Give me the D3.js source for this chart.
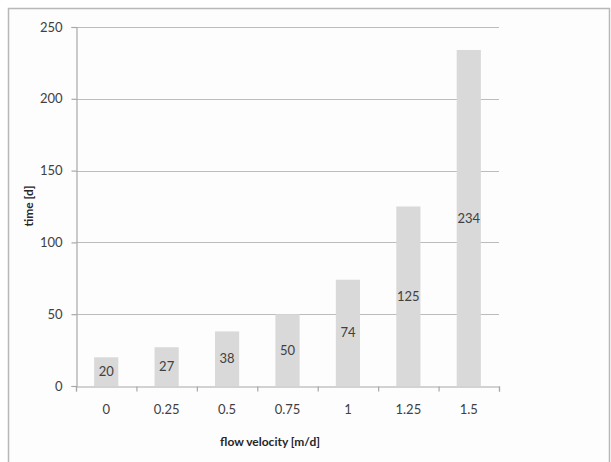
<!DOCTYPE html>
<html>
    <head>
        <meta charset="utf-8">
        <script src="https://cdn.jsdelivr.net/npm/d3@7"></script>
    </head>
    <style>
        body { margin: 0; background: #fff; }
        text { font-family: Lato, "Open Sans", sans-serif; }
    </style>
    <body>
        <div id="canvas"></div>
        <script>
            // data
            var categories = ['0', '0.25', '0.5', '0.75', '1', '1.25', '1.5'];
            var times = [20, 27, 38, 50, 74, 125, 234];
            var yTicks = [0, 50, 100, 150, 200, 250];

            const w = 611;
            const h = 462;
            const plotLeft = 76, plotRight = 499, plotTop = 27, plotBottom = 386;

            const svg = d3.select('#canvas')
                .append('svg')
                .attr('width', w)
                .attr('height', h);

            // outer frame of the chart area
            svg.append('path')
                .attr('d', `M8.5,${h} V8.5 H609.5 V${h}`)
                .attr('fill', '#fdfdfd')
                .attr('stroke', '#b8b8b8')
                .attr('stroke-width', 1.5);

            var x = d3.scaleBand()
                .domain(categories)
                .range([plotLeft, plotRight])
                .paddingInner(0.6)
                .paddingOuter(0.3);

            var y = d3.scaleLinear()
                .domain([0, 250])
                .range([plotBottom, plotTop]);

            // gridlines
            svg.append('g')
                .selectAll('line')
                .data(yTicks.filter(d => d > 0))
                .enter()
                .append('line')
                .attr('x1', plotLeft)
                .attr('x2', plotRight)
                .attr('y1', d => Math.round(y(d)) + 0.5)
                .attr('y2', d => Math.round(y(d)) + 0.5)
                .attr('stroke', '#bcbcbc')
                .attr('stroke-width', 1.2);

            // bars
            svg.append('g')
                .selectAll('rect')
                .data(times)
                .enter()
                .append('rect')
                .attr('x', (d, i) => x(categories[i]))
                .attr('y', d => y(d))
                .attr('width', x.bandwidth())
                .attr('height', d => plotBottom - y(d))
                .attr('fill', '#d9d9d9');

            // value labels, centred in the bars
            svg.append('g')
                .selectAll('text')
                .data(times)
                .enter()
                .append('text')
                .text(d => d)
                .attr('x', (d, i) => x(categories[i]) + x.bandwidth() / 2)
                .attr('y', d => (y(d) + plotBottom) / 2)
                .attr('dy', '0.35em')
                .attr('text-anchor', 'middle')
                .attr('font-size', '13px')
                .attr('fill', '#404040');

            // y axis
            var yAxis = svg.append('g')
                .attr('transform', `translate(${plotLeft + 0.5},0)`)
                .call(d3.axisLeft(y).tickValues(yTicks).tickSize(5).tickPadding(9));

            // x axis, ticks between categories
            var xBounds = d3.scaleLinear()
                .domain([0, categories.length])
                .range([plotLeft, plotRight]);
            var xAxis = svg.append('g')
                .attr('transform', `translate(0,${plotBottom + 0.5})`)
                .call(d3.axisBottom(xBounds).ticks(categories.length).tickSize(5).tickFormat(''));
            svg.append('g')
                .selectAll('text')
                .data(categories)
                .enter()
                .append('text')
                .text(d => d)
                .attr('x', d => x(d) + x.bandwidth() / 2)
                .attr('y', 409)
                .attr('dy', '0.35em')
                .attr('text-anchor', 'middle')
                .attr('font-size', '13px')
                .attr('fill', '#404040');

            [yAxis, xAxis].forEach(function(ax) {
                ax.select('.domain').attr('stroke', '#a8a8a8').attr('stroke-width', 1.2);
                ax.selectAll('.tick line').attr('stroke', '#a8a8a8').attr('stroke-width', 1.2);
                ax.selectAll('.tick text')
                    .attr('font-size', '13px')
                    .attr('fill', '#404040')
                    .style('font-family', 'Lato, sans-serif');
            });

            // axis titles
            svg.append('text')
                .text('flow velocity [m/d]')
                .attr('x', 270)
                .attr('y', 442)
                .attr('dy', '0.35em')
                .attr('text-anchor', 'middle')
                .attr('font-size', '12px')
                .attr('font-weight', 'bold')
                .attr('fill', '#262626');

            svg.append('text')
                .text('time [d]')
                .attr('transform', 'translate(29,206) rotate(-90)')
                .attr('dy', '0.35em')
                .attr('text-anchor', 'middle')
                .attr('font-size', '12px')
                .attr('font-weight', 'bold')
                .attr('fill', '#262626');
        </script>
    </body>
</html>
